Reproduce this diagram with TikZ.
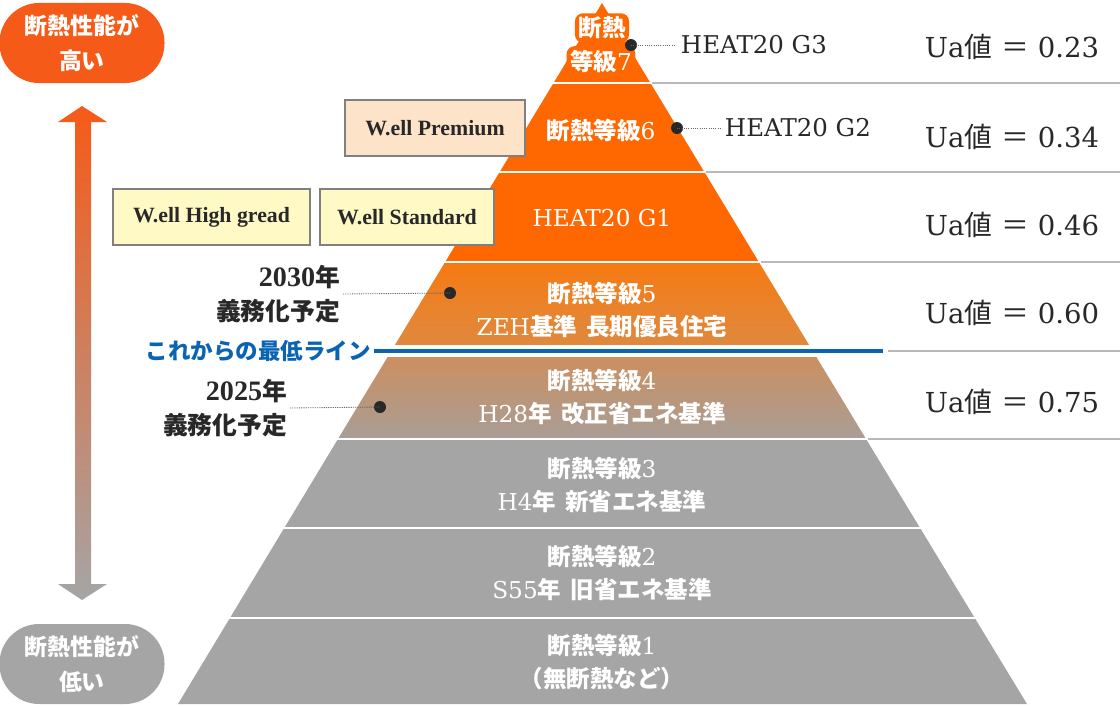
\documentclass[tikz,border=0pt]{standalone}
\usepackage{fontspec}
\setmainfont{Liberation Serif}
\newfontfamily\wide{DejaVu Serif}[Scale=0.87]
\newfontfamily\jp{Noto Sans CJK JP}[Scale=0.88]
\newcommand{\jj}[1]{{\jp\bfseries #1}}
\newcommand{\halfw}[1]{0.6056*(#1-3)}
\definecolor{hotorange}{RGB}{255,104,0}
\definecolor{pillorange}{RGB}{246,90,24}
\definecolor{bandfiveA}{RGB}{246,122,18}
\definecolor{bandfiveB}{RGB}{222,138,66}
\definecolor{bandfourA}{RGB}{206,142,92}
\definecolor{bandfourB}{RGB}{168,158,150}
\definecolor{lowgrey}{RGB}{165,165,165}
\definecolor{lineblue}{RGB}{10,100,180}
\definecolor{inkdark}{RGB}{40,40,40}
\definecolor{premiumfill}{RGB}{253,228,200}
\definecolor{standardfill}{RGB}{255,249,198}
\tikzset{
  lvtext/.style={text=white, align=center, font=\fontsize{19}{23.5}\selectfont\wide},
  uatext/.style={anchor=west, text=inkdark, font=\fontsize{22.5}{27}\selectfont\wide},
  heattext/.style={anchor=west, text=inkdark, font=\fontsize{20}{24}\selectfont\wide},
  duelabel/.style={anchor=east, align=right, text=inkdark, inner sep=2pt,
    font=\fontsize{20}{24.5}\selectfont\bfseries},
  wellbox/.style={draw=gray, line width=0.8pt, text=inkdark, minimum height=1.4cm,
    font=\fontsize{15.5}{18}\selectfont\bfseries},
  pill/.style={text=white, align=center, minimum width=4.125cm, minimum height=2cm,
    rounded corners=0.99cm, font=\fontsize{18.5}{25}\selectfont},
  dot/.style={circle, fill=inkdark, minimum size=0.3cm, inner sep=0pt},
  leader/.style={gray!80!black, line width=0.6pt, dash pattern=on 0.8pt off 0.8pt},
  sep/.style={white, line width=2.1pt},
  rule/.style={gray!55, line width=1.4pt},
  glow/.style={fill=hotorange, rounded corners=0.2cm, inner sep=2.5pt}
}
\begin{document}
\begin{tikzpicture}[x=0.025cm, y=-0.025cm]
\useasboundingbox (0,0) rectangle (1120,706);

% ピラミッドの帯
\fill[hotorange] (602,3) -- ({602-\halfw{262}},262) -- ({602+\halfw{262}},262) -- cycle;
\shade[top color=bandfiveA, bottom color=bandfiveB]
  ({602-\halfw{262}},262) -- ({602+\halfw{262}},262) -- ({602+\halfw{351}},351) -- ({602-\halfw{351}},351) -- cycle;
\shade[top color=bandfourA, bottom color=bandfourB]
  ({602-\halfw{351}},351) -- ({602+\halfw{351}},351) -- ({602+\halfw{439}},439) -- ({602-\halfw{439}},439) -- cycle;
\fill[lowgrey] ({602-\halfw{439}},439) -- ({602+\halfw{439}},439) -- (1027,704) -- (178,704) -- cycle;

% 帯の区切りと右の罫線
\foreach \yy in {83,172,262,439,528,618} {
  \draw[sep] ({602-\halfw{\yy}-4},\yy) -- ({602+\halfw{\yy}+4},\yy);
}
\foreach \yy in {83,172,262,439} {
  \draw[rule] ({602+\halfw{\yy}+2},\yy) -- (1120,\yy);
}
\draw[rule] (888,351) -- (1120,351);
\draw[white, line width=8.5pt] ({602-\halfw{351}-4},351) -- ({602+\halfw{351}+4},351);

% 左の矢印
\shade[top color=pillorange, bottom color=lowgrey]
  (82,106) -- (107,122) -- (91,122) -- (91,584) -- (107,584) -- (82,600)
  -- (58,584) -- (75,584) -- (75,122) -- (58,122) -- cycle;
\node[pill, fill=pillorange] (high) at (82,43) {\jj{断熱性能が}\\\jj{高い}};
\node[pill, fill=lowgrey] (low) at (82,664) {\jj{断熱性能が}\\\jj{低い}};

% 等級の文字
\node[lvtext, glow] (lv7a) at (602,28) {\jj{断熱}};
\node[lvtext, glow] (lv7b) at (601,61) {\jj{等級}7};
\node[lvtext] (lv6) at (601,130) {\jj{断熱等級}6};
\node[lvtext] (g1) at (602,218) {HEAT20 G1};
\node[lvtext] (lv5) at (602,310) {\jj{断熱等級}5\\ZEH\jj{基準}\hspace{0.4em}\jj{長期優良住宅}};
\node[lvtext] (lv4) at (602,397) {\jj{断熱等級}4\\H28\jj{年}\hspace{0.4em}\jj{改正省エネ基準}};
\node[lvtext] (lv3) at (602,485) {\jj{断熱等級}3\\H4\jj{年}\hspace{0.4em}\jj{新省エネ基準}};
\node[lvtext] (lv2) at (602,573) {\jj{断熱等級}2\\S55\jj{年}\hspace{0.4em}\jj{旧省エネ基準}};
\node[lvtext] (lv1) at (602,662) {\jj{断熱等級}1\\\jj{（無断熱など）}};

% HEAT20の引き出し
\node[dot] (d7) at (631,45) {};
\node[heattext] (g3) at (676,45) {HEAT20 G3};
\draw[leader] (d7.center) -- (g3.west);
\node[dot] (d6) at (677,128) {};
\node[heattext] (g2) at (720,128) {HEAT20 G2};
\draw[leader] (d6.center) -- (g2.west);

% W.ellの箱
\node[wellbox, fill=premiumfill, minimum width=4.5cm] (premium) at (435,128) {W.ell Premium};
\node[wellbox, fill=standardfill, minimum width=4.925cm] (highgrade) at (211.5,217) {W.ell High gread};
\node[wellbox, fill=standardfill, minimum width=4.35cm] (standard) at (407,217) {W.ell Standard};

% 義務化予定
\node[duelabel] (y2030) at (343,294) {2030\jj{年}\\\jj{義務化予定}};
\node[dot] (d5) at (450,293) {};
\draw[leader] (y2030.east) -- (d5.center);
\node[duelabel] (y2025) at (290,408) {2025\jj{年}\\\jj{義務化予定}};
\node[dot] (d4) at (380,407) {};
\draw[leader] (y2025.east) -- (d4.center);

% 最低ライン
\node[anchor=east, text=lineblue, inner sep=2pt, font=\fontsize{18.2}{22}\selectfont] (minline) at (374,351) {\jj{これからの最低ライン}};
\coordinate (lineend) at (883,351);
\draw[lineblue, line width=3.4pt] (minline.east) -- (lineend);

% Ua値
\foreach \yy/\ua in {47/0.23, 137/0.34, 225/0.46, 313/0.60, 402/0.75} {
  \node[uatext] (ua\yy) at (920,\yy) {Ua{\jp 値} {\jp ＝} \ua};
}
\end{tikzpicture}
\end{document}
